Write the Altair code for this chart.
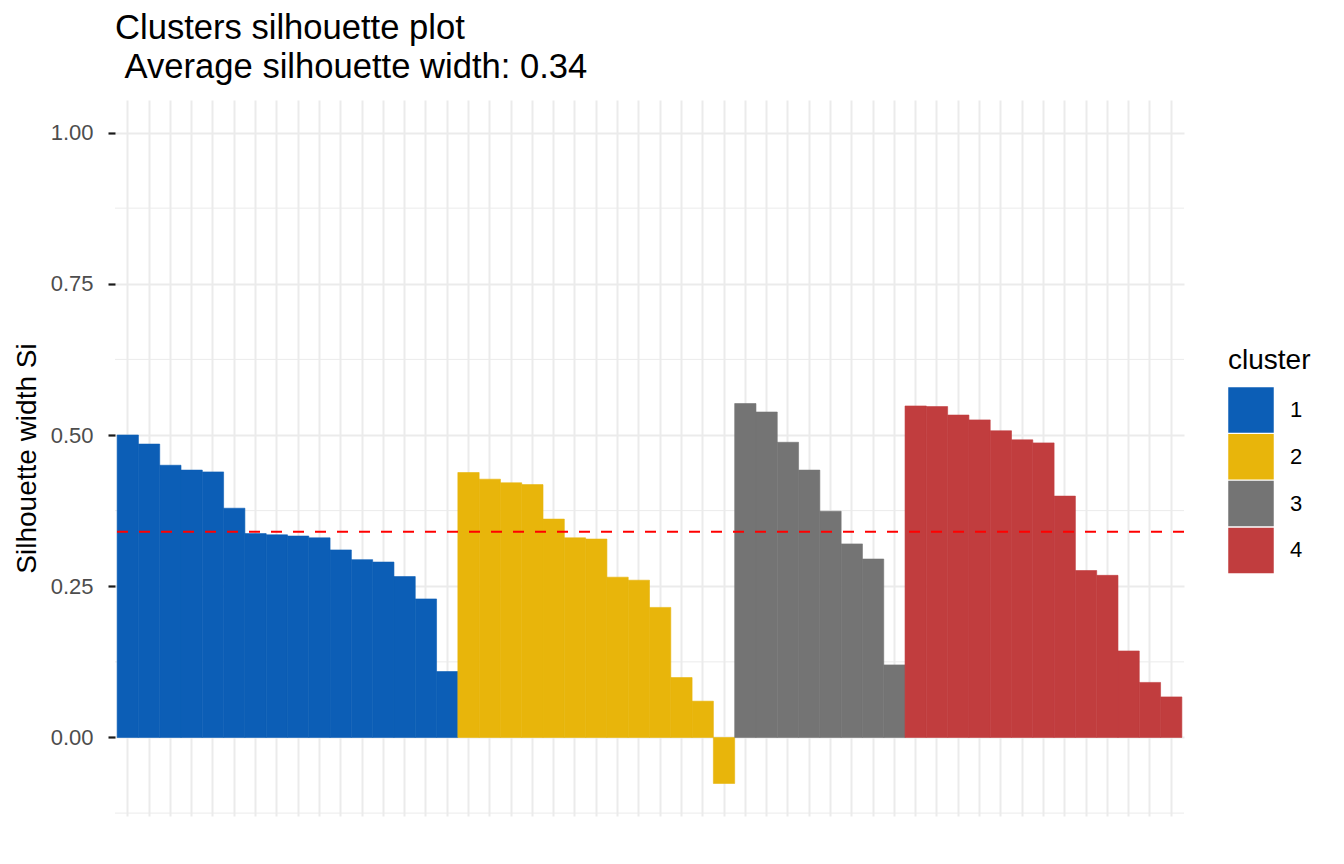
import altair as alt
import pandas as pd

# Silhouette widths, in plotted order, per cluster
cluster1 = [0.500, 0.485, 0.450, 0.442, 0.439, 0.379, 0.337, 0.335, 0.333, 0.330,
            0.310, 0.294, 0.290, 0.266, 0.229, 0.109]
cluster2 = [0.438, 0.427, 0.421, 0.418, 0.361, 0.330, 0.328, 0.265, 0.260, 0.215,
            0.099, 0.060, -0.076]
cluster3 = [0.552, 0.538, 0.488, 0.442, 0.374, 0.320, 0.295, 0.120]
cluster4 = [0.548, 0.547, 0.533, 0.525, 0.507, 0.492, 0.487, 0.399, 0.276, 0.268,
            0.143, 0.091, 0.067]

cluster_names = ["1", "2", "3", "4"]
cluster_colors = ["#0C5EB6", "#E8B50B", "#747474", "#C13D3E"]
avg_width = [0.34]
y_ticks = [0.0, 0.25, 0.5, 0.75, 1.0]
y_minor = [-0.125, 0.125, 0.375, 0.625, 0.875]
title_lines = ["Clusters silhouette plot", "\u200b\u00a0Average silhouette width: 0.34"]

FONT = "Liberation Sans"

obs, clus, sil = [], [], []
k = 0
for name, vals in zip(cluster_names, [cluster1, cluster2, cluster3, cluster4]):
    for v in vals:
        k += 1
        obs.append(str(k))
        clus.append(name)
        sil.append(v)
df = pd.DataFrame({"obs": obs, "cluster": clus, "sil": sil})

y_scale = alt.Scale(domain=[-0.1298, 1.0538], nice=False, zero=False)
y_axis = alt.Axis(values=y_ticks, format=".2f", labelFontSize=22, labelColor="#4D4D4D",
                  labelFont=FONT, tickSize=7, tickWidth=2.2, tickColor="#1A1A1A",
                  labelPadding=15, domain=False, gridColor="#EBEBEB", gridWidth=2,
                  titleFont=FONT, titleFontSize=28, titleFontWeight="normal",
                  titleColor="black", titlePadding=9)
Y_TITLE = "Silhouette width Si"
color_scale = alt.Scale(domain=cluster_names, range=cluster_colors)

minor = alt.Chart(pd.DataFrame({"v": y_minor})).mark_rule(
    color="#EBEBEB", strokeWidth=1
).encode(y=alt.Y("v:Q", scale=y_scale, axis=y_axis, title=Y_TITLE))

bars = alt.Chart(df).mark_bar(strokeWidth=0.6).encode(
    x=alt.X("obs:N", sort=obs,
            scale=alt.Scale(paddingInner=0, paddingOuter=0.1),
            axis=alt.Axis(labels=False, ticks=False, domain=False, title="", grid=True,
                          gridColor="#EBEBEB", gridWidth=2, bandPosition=0.5,
                          tickExtra=False)),
    y=alt.Y("sil:Q", scale=y_scale, axis=y_axis, title=Y_TITLE),
    y2=alt.datum(0),
    stroke=alt.Stroke("cluster:N", scale=color_scale, legend=None),
    color=alt.Color("cluster:N", scale=color_scale,
                    legend=alt.Legend(title="cluster", orient="none",
                                      legendX=1113, legendY=247,
                                      symbolType="square", symbolSize=2070,
                                      symbolStrokeWidth=0, symbolOpacity=1,
                                      titleFont=FONT, titleFontSize=28,
                                      titleFontWeight="normal", titleColor="black",
                                      labelFont=FONT, labelFontSize=22,
                                      labelColor="black", rowPadding=0.8,
                                      labelOffset=16, titlePadding=12)),
)

avg = alt.Chart(pd.DataFrame({"avg": avg_width})).mark_rule(
    color="#FF0000", strokeDash=[11, 11], strokeWidth=2
).encode(y=alt.Y("avg:Q", scale=y_scale, axis=y_axis, title=Y_TITLE))

chart = alt.layer(minor, bars, avg).properties(
    width=1069, height=716,
    padding={"left": 115, "top": 100, "right": 160, "bottom": 48},
    autosize=alt.AutoSizeParams(type="none"),
    title=alt.TitleParams(text=title_lines, anchor="start", frame="group",
                          fontSize=34.6, font=FONT, fontWeight="normal",
                          color="black", lineHeight=39, offset=14),
).configure(background="white").configure_view(strokeWidth=0, stroke="transparent")

chart.save("out.html", embed_options={"renderer": "svg", "actions": False})
